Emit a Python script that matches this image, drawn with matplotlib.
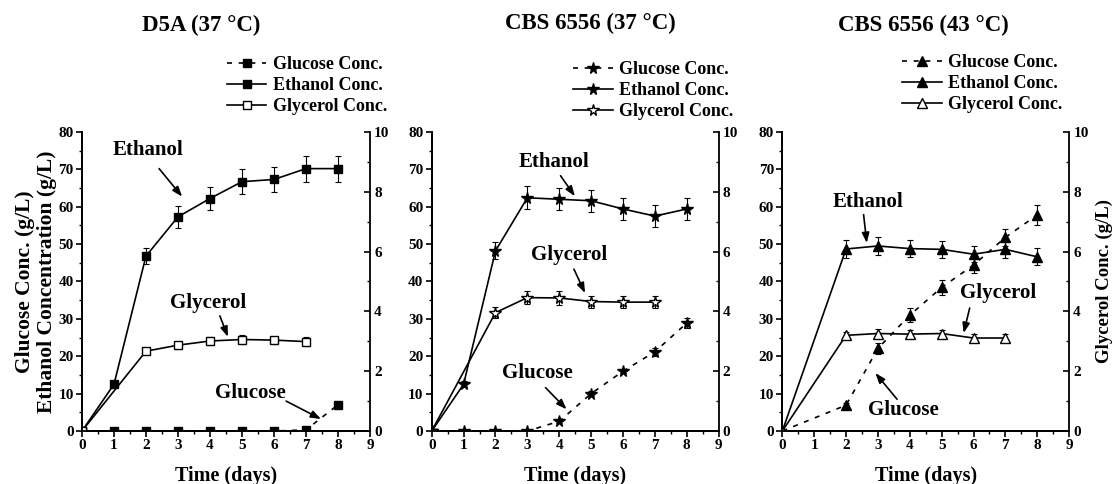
import matplotlib
matplotlib.use('Agg')
import matplotlib.pyplot as plt
from matplotlib.lines import Line2D
from matplotlib.ticker import MultipleLocator

plt.rcParams['font.family'] = 'Liberation Serif'
plt.rcParams['font.weight'] = 'bold'
plt.rcParams['axes.labelweight'] = 'bold'

### Fermentation data, glucose / ethanol in g/L (left axis), glycerol in g/L (right axis)
# D5A (37 C)
d5a_days = [0, 1, 2, 3, 4, 5, 6, 7, 8]
d5a_ethanol = [0, 12.5, 46.8, 57.3, 62.2, 66.7, 67.3, 70.2, 70.2]
d5a_ethanol_err = [0, 0.5, 2.2, 2.9, 3.0, 3.3, 3.3, 3.5, 3.5]
d5a_glucose = [0, 0, 0, 0, 0, 0, 0, 0.3, 7.0]
d5a_glucose_err = [0, 0, 0, 0, 0, 0, 0, 0, 0]
d5a_gly_days = [0, 2, 3, 4, 5, 6, 7]
d5a_glycerol = [0, 2.67, 2.87, 3.01, 3.06, 3.04, 2.99]
d5a_glycerol_err = [0, 0.10, 0.12, 0.12, 0.15, 0.12, 0.14]

# CBS 6556 (37 C)
cbs37_days = [0, 1, 2, 3, 4, 5, 6, 7, 8]
cbs37_ethanol = [0, 12.5, 48.2, 62.4, 62.0, 61.6, 59.4, 57.5, 59.4]
cbs37_ethanol_err = [0, 0.8, 2.3, 3.1, 3.0, 3.0, 3.0, 2.9, 2.9]
cbs37_glucose = [0, 0, 0, 0, 2.6, 10.0, 16.0, 21.2, 28.9]
cbs37_glucose_err = [0, 0, 0, 0, 0.5, 0.6, 0.6, 1.0, 1.4]
cbs37_gly_days = [0, 2, 3, 4, 5, 6, 7]
cbs37_glycerol = [0, 3.96, 4.46, 4.45, 4.33, 4.31, 4.31]
cbs37_glycerol_err = [0, 0.18, 0.22, 0.22, 0.20, 0.20, 0.20]

# CBS 6556 (43 C)
cbs43_days = [0, 2, 3, 4, 5, 6, 7, 8]
cbs43_ethanol = [0, 48.7, 49.5, 48.8, 48.6, 47.3, 48.6, 46.6]
cbs43_ethanol_err = [0, 2.3, 2.5, 2.3, 2.3, 2.2, 2.2, 2.3]
cbs43_glucose = [0, 6.9, 22.1, 31.0, 38.4, 44.4, 51.8, 57.8]
cbs43_glucose_err = [0, 0.5, 1.5, 1.8, 1.9, 2.2, 2.3, 2.7]
cbs43_gly_days = [0, 2, 3, 4, 5, 6, 7]
cbs43_glycerol = [0, 3.20, 3.26, 3.24, 3.26, 3.11, 3.11]
cbs43_glycerol_err = [0, 0.12, 0.15, 0.13, 0.13, 0.12, 0.12]

titles = ['D5A (37 °C)', 'CBS 6556 (37 °C)', 'CBS 6556 (43 °C)']
legend_labels = ['Glucose Conc.', 'Ethanol Conc.', 'Glycerol Conc.']

fig = plt.figure(figsize=(11.17, 4.84), dpi=100)
DASH = (0, (3, 4))

def panel(rect, days, ethanol, ethanol_err, glucose, glucose_err,
          gly_days, glycerol, glycerol_err, marker, msize):
    ax = fig.add_axes(rect)
    ax2 = ax.twinx()
    eb = dict(capsize=2.5, elinewidth=0.8, capthick=0.8, ecolor='black')
    ax.errorbar(days, glucose, yerr=glucose_err, color='black', ls=DASH,
                lw=1.2, marker=marker, ms=msize, mfc='black', mec='black', **eb)
    ax.errorbar(days, ethanol, yerr=ethanol_err, color='black', ls='-',
                lw=1.2, marker=marker, ms=msize, mfc='black', mec='black', **eb)
    ax2.errorbar(gly_days, glycerol, yerr=glycerol_err, color='black', ls='-',
                 lw=1.2, marker=marker, ms=msize, mfc='white', mec='black', **eb)
    ax.set_xlim(0, 9)
    ax.set_ylim(0, 80)
    ax2.set_ylim(0, 10)
    for a in (ax, ax2):
        a.spines['top'].set_visible(False)
        for s in a.spines.values():
            s.set_linewidth(1.3)
    ax.spines['right'].set_visible(False)
    ax.xaxis.set_major_locator(MultipleLocator(1))
    ax.xaxis.set_minor_locator(MultipleLocator(0.5))
    ax.yaxis.set_major_locator(MultipleLocator(10))
    ax.yaxis.set_minor_locator(MultipleLocator(5))
    ax2.yaxis.set_major_locator(MultipleLocator(2))
    ax2.yaxis.set_minor_locator(MultipleLocator(1))
    ax.tick_params(which='major', direction='out', length=4, width=1.2, labelsize=11, pad=2)
    ax.tick_params(which='minor', direction='out', length=2, width=1.0)
    ax2.tick_params(which='major', direction='in', length=4, width=1.2, labelsize=11, pad=3)
    ax2.tick_params(which='minor', direction='in', length=2, width=1.0)
    for lab in ax.get_xticklabels() + ax.get_yticklabels() + ax2.get_yticklabels():
        lab.set_fontweight('bold')
    ax.set_xlabel('Time (days)', fontsize=14.5, labelpad=10)
    # legend handles without the error bar glyphs
    h = [Line2D([], [], color='black', ls=DASH, lw=1.2, marker=marker, ms=msize,
                mfc='black', mec='black'),
         Line2D([], [], color='black', ls='-', lw=1.2, marker=marker, ms=msize,
                mfc='black', mec='black'),
         Line2D([], [], color='black', ls='-', lw=1.2, marker=marker, ms=msize,
                mfc='white', mec='black')]
    return ax, ax2, h

def note(ax, text, head, tail, xytext):
    ax.text(xytext[0], xytext[1], text, fontsize=15, fontweight='bold', ha='center', va='center')
    ax.annotate('', xy=head, xytext=tail,
                arrowprops=dict(arrowstyle='-|>,head_length=0.6,head_width=0.22',
                                color='black', lw=1.2, shrinkA=0, shrinkB=0))

def legend(h, anchor):
    fig.legend(h, legend_labels, loc='upper left', bbox_to_anchor=anchor, frameon=False,
               handlelength=2.2, handletextpad=0.35, labelspacing=0.22,
               borderpad=0, borderaxespad=0, prop={'weight': 'bold', 'size': 13})

bottom, height = 0.1095, 0.6178

### D5A panel
ax, ax2, h = panel([0.0734, bottom, 0.2578, height], d5a_days, d5a_ethanol, d5a_ethanol_err,
                   d5a_glucose, d5a_glucose_err, d5a_gly_days, d5a_glycerol, d5a_glycerol_err, 's', 5.5)
ax.set_ylabel('Glucose Conc. (g/L)\nEthanol Concentration (g/L)', fontsize=15.5, labelpad=1,
              linespacing=1.15)
note(ax, 'Ethanol', (3.13, 62.7), (2.41, 70.2), (2.06, 75.3))
note(ax, 'Glycerol', (4.56, 25.2), (4.31, 30.8), (3.94, 34.3))
note(ax, 'Glucose', (7.47, 3.2), (6.38, 8.0), (5.25, 10.2))
legend(h, (0.203, 0.884))
fig.text(201 / 1117, 1 - 25 / 484, titles[0], ha='center', va='center', fontsize=16.5, fontweight='bold')

### CBS 6556 at 37 C
ax, ax2, h = panel([0.3865, bottom, 0.2569, height], cbs37_days, cbs37_ethanol, cbs37_ethanol_err,
                   cbs37_glucose, cbs37_glucose_err, cbs37_gly_days, cbs37_glycerol,
                   cbs37_glycerol_err, '*', 8.5)
note(ax, 'Ethanol', (4.49, 62.8), (4.04, 68.3), (3.83, 72.1))
note(ax, 'Glycerol', (4.81, 36.9), (4.46, 43.3), (4.31, 47.1))
note(ax, 'Glucose', (4.23, 5.8), (3.57, 11.6), (3.32, 15.6))
legend(h, (0.513, 0.874))
fig.text(590 / 1117, 1 - 23 / 484, titles[1], ha='center', va='center', fontsize=16.5, fontweight='bold')

### CBS 6556 at 43 C
ax, ax2, h = panel([0.7004, bottom, 0.2567, height], cbs43_days, cbs43_ethanol, cbs43_ethanol_err,
                   cbs43_glucose, cbs43_glucose_err, cbs43_gly_days, cbs43_glycerol,
                   cbs43_glycerol_err, '^', 6.5)
ax2.set_ylabel('Glycerol Conc. (g/L)', fontsize=13.5, labelpad=5)
note(ax, 'Ethanol', (2.65, 50.3), (2.55, 57.9), (2.70, 61.4))
note(ax, 'Glycerol', (5.69, 26.2), (5.88, 32.9), (6.77, 36.9))
note(ax, 'Glucose', (2.92, 15.5), (3.60, 8.5), (3.81, 5.6))
legend(h, (0.8075, 0.888))
fig.text(923 / 1117, 1 - 25 / 484, titles[2], ha='center', va='center', fontsize=16.5, fontweight='bold')

fig.savefig('out.png', dpi=100)
